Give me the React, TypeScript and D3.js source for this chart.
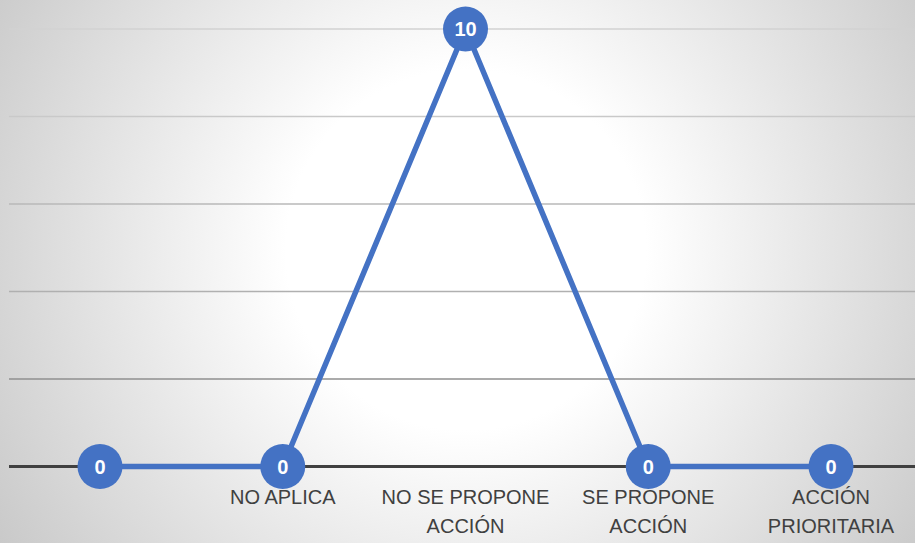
import React from "react";
import * as d3 from "d3";

const categories = ["", "NO APLICA", "NO SE PROPONE ACCIÓN", "SE PROPONE ACCIÓN", "ACCIÓN PRIORITARIA"];
const labelLines = [[], ["NO APLICA"], ["NO SE PROPONE", "ACCIÓN"], ["SE PROPONE", "ACCIÓN"], ["ACCIÓN", "PRIORITARIA"]];
const values = [0, 0, 10, 0, 0];
const yTicks = [2, 4, 6, 8, 10];
const gridColors = ["#8f8f8f", "#b0b0b0", "#b9b9b9", "#c9c9c9", "#d2d2d2"];

export default function App() {
  const W = 915, H = 543;
  const x = d3.scalePoint<string>().domain(categories.map((c, i) => String(i))).range([100, 831]);
  const y = d3.scaleLinear().domain([0, 10]).range([466.5, 29]);
  const line = d3.line<number>().x((_, i) => x(String(i))!).y((d) => y(d));
  const font = "'Liberation Sans', Arial, sans-serif";
  return (
    <svg width={W} height={H} style={{ position: "absolute", left: 0, top: 0 }} fontFamily={font}>
      <defs>
        <radialGradient id="bg" gradientUnits="userSpaceOnUse" cx={466} cy={250} r={600}>
          <stop offset="0" stopColor="#ffffff" />
          <stop offset="0.3" stopColor="#ffffff" />
          <stop offset="1" stopColor="#c2c2c2" />
        </radialGradient>
      </defs>
      <rect x={0} y={0} width={W} height={H} fill="url(#bg)" />
      {yTicks.map((t, i) => (
        <line key={t} x1={9} x2={W} y1={y(t)} y2={y(t)} stroke={gridColors[i]} strokeWidth={1.5} />
      ))}
      <line x1={9} x2={W} y1={y(0)} y2={y(0)} stroke="#404040" strokeWidth={3} />
      <path d={line(values) || ""} fill="none" stroke="#4472C4" strokeWidth={5.5} strokeLinejoin="round" />
      {values.map((v, i) => (
        <g key={i}>
          <circle cx={x(String(i))} cy={y(v)} r={22.5} fill="#4472C4" />
          <text x={x(String(i))} y={y(v) + 7} textAnchor="middle" fill="#ffffff" fontWeight="bold" fontSize={20}>
            {v}
          </text>
        </g>
      ))}
      {labelLines.map((lines, i) =>
        lines.map((ln, j) => (
          <text key={i + "-" + j} x={x(String(i))} y={504 + j * 28.5} textAnchor="middle" fill="#404040" fontSize={20}>
            {ln}
          </text>
        ))
      )}
    </svg>
  );
}
